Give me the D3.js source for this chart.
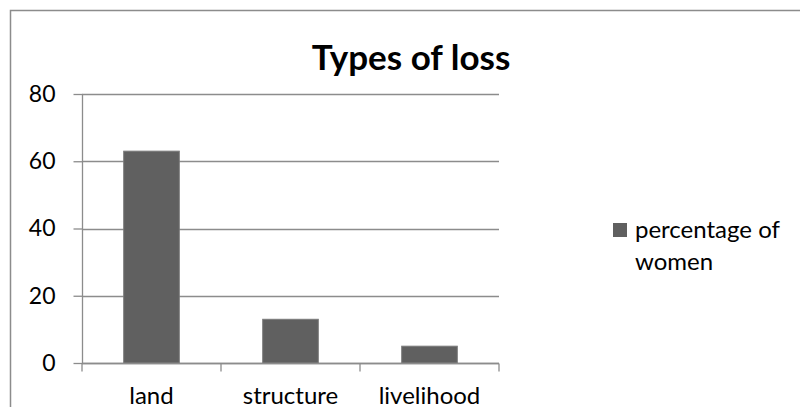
<!DOCTYPE html>
<html>
<head>
<meta charset="utf-8">
<script src="https://cdn.jsdelivr.net/npm/d3@7"></script>
<style>
  html, body { margin: 0; padding: 0; background: #fff; }
  svg { display: block; font-family: Lato, "Open Sans", sans-serif; }
</style>
</head>
<body>
<svg id="chart" width="800" height="407"></svg>
<script>
const categories = ["land", "structure", "livelihood"];
const seriesName = "percentage of women";
const values = [63, 13, 5];
const yTicks = [0, 20, 40, 60, 80];
const title = "Types of loss";

const svg = d3.select("#chart");
const W = 800, H = 407;
const plot = { left: 82, right: 499, top: 94, bottom: 363 };
const FS = 23;

// outer frame
svg.append("rect")
  .attr("x", 10.5).attr("y", 10.5)
  .attr("width", W).attr("height", H)
  .attr("fill", "none").attr("stroke", "#8c8c8c").attr("stroke-width", 1.5);

const x = d3.scaleBand().domain(categories)
  .range([plot.left, plot.right]).paddingInner(0.6).paddingOuter(0.3);
const y = d3.scaleLinear().domain([0, 80]).range([plot.bottom, plot.top]);

// gridlines
svg.append("g").selectAll("line").data(yTicks).join("line")
  .attr("x1", plot.left).attr("x2", plot.right)
  .attr("y1", d => Math.round(y(d)) + 0.5).attr("y2", d => Math.round(y(d)) + 0.5)
  .attr("stroke", "#8c8c8c").attr("stroke-width", 1.3);

// y axis
const yAxis = d3.axisLeft(y).tickValues(yTicks).tickSize(9).tickPadding(18);
const gy = svg.append("g").attr("transform", `translate(${plot.left + 0.5},0)`).call(yAxis);
gy.select(".domain").attr("stroke", "#8c8c8c").attr("stroke-width", 1.3).attr("d", `M0,${y(80)}V${y(0)}`);
gy.selectAll(".tick line").attr("stroke", "#8c8c8c").attr("stroke-width", 1.3);
gy.selectAll(".tick text").attr("font-size", FS).attr("fill", "#000").attr("font-family", "Lato, 'Open Sans', sans-serif");

// bars
svg.append("g").selectAll("rect").data(values).join("rect")
  .attr("x", (d, i) => x(categories[i]))
  .attr("width", x.bandwidth())
  .attr("y", d => y(d))
  .attr("height", d => y(0) - y(d))
  .attr("fill", "#606060").attr("stroke", "#7a7a7a").attr("stroke-width", 1);

// x axis
const xStep = x.step();
const xAxisG = svg.append("g").attr("transform", `translate(0,${Math.round(plot.bottom) + 0.5})`);
xAxisG.append("line").attr("x1", plot.left).attr("x2", plot.right)
  .attr("stroke", "#8c8c8c").attr("stroke-width", 1.3);
const boundaries = [plot.left].concat(categories.map(c => x(c) + x.bandwidth() / 2 + xStep / 2));
xAxisG.selectAll("line.tk").data(boundaries).join("line").attr("class", "tk")
  .attr("x1", d => d).attr("x2", d => d).attr("y1", 0).attr("y2", 8)
  .attr("stroke", "#8c8c8c").attr("stroke-width", 1.3);
xAxisG.selectAll("text").data(categories).join("text")
  .attr("x", d => x(d) + x.bandwidth() / 2).attr("y", 40)
  .attr("text-anchor", "middle").attr("font-size", FS + 1).attr("fill", "#000")
  .text(d => d);

// title
svg.append("text").attr("x", 411).attr("y", 70)
  .attr("text-anchor", "middle").attr("font-size", 35).attr("font-weight", "bold")
  .attr("fill", "#000").text(title);

// legend
const lg = svg.append("g");
lg.append("rect").attr("x", 613).attr("y", 223).attr("width", 14).attr("height", 14)
  .attr("fill", "#606060");
const words = seriesName.split(" ");
lg.append("text").attr("x", 635).attr("y", 238).attr("font-size", FS + 1).attr("fill", "#000")
  .text(words.slice(0, 2).join(" "));
lg.append("text").attr("x", 635).attr("y", 270).attr("font-size", FS + 1).attr("fill", "#000")
  .text(words.slice(2).join(" "));
</script>
</body>
</html>
